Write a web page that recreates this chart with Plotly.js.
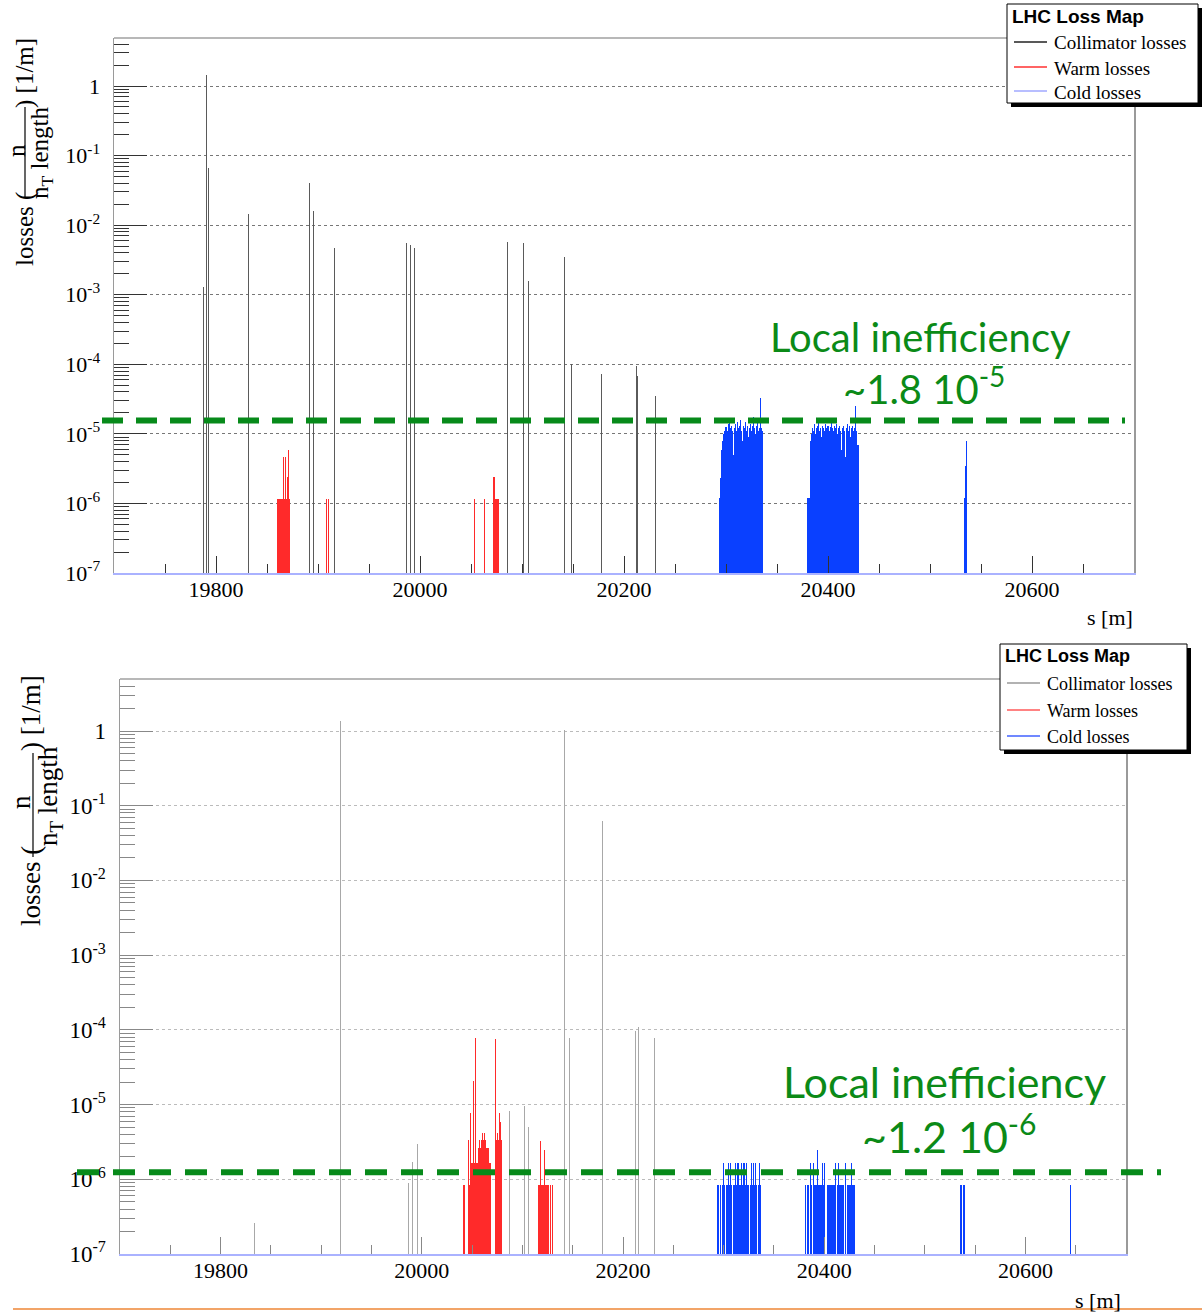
<!DOCTYPE html>
<html><head><meta charset="utf-8">
<script src="https://cdn.plot.ly/plotly-3.0.1.min.js"></script>
<style>html,body{margin:0;padding:0;background:#fff}</style>
</head><body><div id="chart" style="width:1202px;height:1315px"></div>
<script>
// ================= DATA =================
const xTickVals = [19800, 20000, 20200, 20400, 20600];
const xTickText = ['19800', '20000', '20200', '20400', '20600'];
const yTickVals = [1e-7, 1e-6, 1e-5, 1e-4, 1e-3, 1e-2, 1e-1, 1];
const yTickText = ['10<sup>-7</sup>', '10<sup>-6</sup>', '10<sup>-5</sup>', '10<sup>-4</sup>',
                   '10<sup>-3</sup>', '10<sup>-2</sup>', '10<sup>-1</sup>', '1'];
const legendNames = ['Collimator losses', 'Warm losses', 'Cold losses'];
const legendTitle = 'LHC Loss Map';

// ---- top panel ----
const ineffTop = 1.55e-5;
const ineffTopLabel = '~1.8 10<sup>-5</sup>';
const collTopS = [19788.2, 19790.9, 19792.2, 19832.0, 19891.8, 19895.8, 19916.3, 19987.0, 19990.5,
                  19994.4, 20085.6, 20101.7, 20106.6, 20141.2, 20148.7, 20178.4, 20212.4, 20213.4, 20231.0];
const collTopV = [1.3e-3, 1.44, 0.066, 0.0143, 0.041, 0.016, 4.7e-3, 5.6e-3, 5.1e-3,
                  4.7e-3, 5.8e-3, 5.6e-3, 1.6e-3, 3.5e-3, 1.0e-4, 7.2e-5, 9.5e-5, 6.8e-5, 3.5e-5];
const warmTopS = [19860, 19861, 19862, 19863, 19864, 19865, 19866, 19867, 19868, 19869, 19870, 19871, 19872,
                  19908, 19910, 20053, 20063, 20072, 20073, 20074, 20075, 20076, 20077];
const warmTopV = [1.14e-6, 1.14e-6, 1.14e-6, 1.14e-6, 1.14e-6, 1.14e-6, 4.6e-6, 1.14e-6, 4.6e-6, 1.14e-6, 2.4e-6, 5.9e-6, 1.14e-6,
                  1.14e-6, 1.14e-6, 1.14e-6, 1.14e-6, 2.4e-6, 2.4e-6, 1.14e-6, 1.14e-6, 1.14e-6, 1.14e-6];
// cold losses, 1 m bins: first bin position and bin contents
const coldTopA0 = 20294;
const coldTopA = [1.2e-6, 2.3e-6, 5.9e-6, 8.0e-6, 1.0e-5, 1.1e-5, 1.25e-5, 1.1e-5, 1.4e-5, 1.6e-5,
                  1.2e-5, 1.3e-5, 1.1e-5, 5.0e-6, 1.2e-5, 1.4e-5, 1.1e-5, 1.5e-5, 1.2e-5, 1.3e-5,
                  1.6e-5, 1.1e-5, 8.0e-6, 1.3e-5, 1.2e-5, 1.5e-5, 1.1e-5, 1.3e-5, 9.0e-6, 1.2e-5,
                  1.4e-5, 1.1e-5, 1.3e-5, 1.75e-5, 1.2e-5, 1.0e-5, 1.3e-5, 1.5e-5, 1.1e-5, 1.2e-5,
                  3.3e-5, 1.2e-5, 1.1e-5];
const coldTopB0 = 20380;
const coldTopB = [1.2e-6, 1.2e-6, 1.2e-6, 8.0e-6, 1.0e-5, 1.2e-5, 1.1e-5, 1.4e-5, 1.0e-5, 1.2e-5,
                  1.3e-5, 1.7e-5, 1.1e-5, 1.2e-5, 9.0e-6, 1.3e-5, 1.2e-5, 1.1e-5, 1.4e-5, 1.2e-5,
                  1.3e-5, 1.1e-5, 1.25e-5, 1.5e-5, 1.2e-5, 1.1e-5, 1.3e-5, 1.2e-5, 1.4e-5, 1.0e-5,
                  1.2e-5, 1.3e-5, 1.1e-5, 5.9e-6, 1.2e-5, 1.3e-5, 1.1e-5, 4.7e-6, 1.2e-5, 1.4e-5,
                  1.1e-5, 1.3e-5, 9.0e-6, 1.2e-5, 1.3e-5, 1.1e-5, 1.2e-5, 2.5e-5, 1.1e-5, 7.0e-6,
                  7.0e-6];
const coldTopC0 = 20534;
const coldTopC = [1.2e-6, 3.5e-6, 8.0e-6];

// ---- bottom panel ----
const ineffBot = 1.24e-6;
const ineffBotLabel = '~1.2 10<sup>-6</sup>';
const collBotS = [19833.3, 19919.3, 19986.9, 19991.0, 19995.3, 20086.8, 20102.4, 20106.4, 20141.4,
                  20147.2, 20179.7, 20212.4, 20215.2, 20231.2];
const collBotV = [2.6e-7, 1.36, 8.8e-7, 1.7e-6, 3.0e-6, 8.2e-6, 9.6e-6, 5.0e-6, 1.03,
                  7.8e-5, 0.063, 9.7e-5, 1.1e-4, 7.8e-5];
const warmBotA0 = 20041;
const warmBotA = [8.4e-7, 8.4e-7, null, null, null, 3.4e-6, 8.4e-7, 7.6e-6, 1.63e-6, 1.63e-6,
                  2.1e-5, 1.63e-6, 7.7e-5, 1.63e-6, 1.63e-6, 2.6e-6, 3.35e-6, 2.6e-6, 3.35e-6, 4.2e-6,
                  3.35e-6, 4.2e-6, 3.35e-6, 2.6e-6, 2.6e-6, 2.6e-6, 1.63e-6, 1.63e-6, null, null,
                  null, null, 7.5e-5, 3.35e-6, 4.2e-6, 3.35e-6, 7.6e-6, 5.9e-6, 3.35e-6];
const warmBotB0 = 20116;
const warmBotB = [8.4e-7, 8.4e-7, 3.3e-6, 8.4e-7, 8.4e-7, 8.4e-7, 2.5e-6, 8.4e-7, 8.4e-7, 8.4e-7,
                  8.4e-7, null, 8.4e-7, null, 8.4e-7];
const coldBotA0 = 20294;
const coldBotA = [8.4e-7, 8.4e-7, null, 8.4e-7, null, 8.4e-7, 1.63e-6, 8.4e-7, null, 8.4e-7,
                  8.4e-7, 1.63e-6, 8.4e-7, 1.63e-6, 8.4e-7, null, 8.4e-7, 8.4e-7, 1.63e-6, 8.4e-7,
                  1.63e-6, 1.63e-6, 8.4e-7, 8.4e-7, 1.63e-6, 8.4e-7, 1.63e-6, 1.63e-6, 8.4e-7, 1.63e-6,
                  8.4e-7, 8.4e-7, null, 8.4e-7, 1.63e-6, 8.4e-7, 1.63e-6, 8.4e-7, 1.63e-6, 8.4e-7,
                  null, 8.4e-7, 1.63e-6, 8.4e-7];
const coldBotB0 = 20381;
const coldBotB = [8.4e-7, null, 8.4e-7, 8.4e-7, null, 1.63e-6, 8.4e-7, null, 1.63e-6, 8.4e-7,
                  8.4e-7, 8.4e-7, 2.5e-6, 8.4e-7, 8.4e-7, 8.4e-7, 8.4e-7, 1.63e-6, 8.4e-7, 1.63e-6,
                  null, null, 8.4e-7, 8.4e-7, 8.4e-7, 8.4e-7, 8.4e-7, 8.4e-7, 8.4e-7, 8.4e-7,
                  1.63e-6, null, 8.4e-7, 1.63e-6, 8.4e-7, 8.4e-7, 8.4e-7, 8.4e-7, 8.4e-7, null,
                  1.63e-6, null, 8.4e-7, 8.4e-7, 8.4e-7, 8.4e-7, 1.63e-6, 8.4e-7, 8.4e-7, 8.4e-7];
const coldBotC0 = 20535;
const coldBotC = [8.4e-7, 8.4e-7, null, 8.4e-7, 8.4e-7];
const coldBotD0 = 20645;
const coldBotD = [8.4e-7];

// ================= HELPERS =================
function bins(start, vals) {          // histogram bins of 1 m
  const x = [], y = [];
  vals.forEach((v, i) => { if (v !== null) { x.push(start + i); y.push(v); } });
  return {x, y};
}
function concat(...parts) {
  return {x: [].concat(...parts.map(p => p.x)), y: [].concat(...parts.map(p => p.y))};
}
const W = 1202, H = 1315;
const px = v => v / W, py = v => 1 - v / H;
const SERIF = '"Liberation Serif", "DejaVu Serif", serif';
const SANS = '"Liberation Sans", Arial, sans-serif';
const GREEN = '#0b8a17';
const TEXTFONT = 'Lato, "Open Sans", sans-serif';

const warmTop = {x: warmTopS, y: warmTopV};
const coldTop = concat(bins(coldTopA0, coldTopA), bins(coldTopB0, coldTopB), bins(coldTopC0, coldTopC));
const warmBot = concat(bins(warmBotA0, warmBotA), bins(warmBotB0, warmBotB));
const coldBot = concat(bins(coldBotA0, coldBotA), bins(coldBotB0, coldBotB),
                       bins(coldBotC0, coldBotC), bins(coldBotD0, coldBotD));

function bar(d, color, name, xa, ya) {
  return {type: 'bar', x: d.x, y: d.y, width: 1, xaxis: xa, yaxis: ya, name: name,
          marker: {color: color, line: {width: 0}}, showlegend: false, hoverinfo: 'x+y'};
}

const traces = [
  bar({x: collTopS, y: collTopV}, '#5a5a5a', legendNames[0], 'x', 'y'),
  bar(warmTop, '#ff2a2a', legendNames[1], 'x', 'y'),
  bar(coldTop, '#0a40ff', legendNames[2], 'x', 'y'),
  bar({x: collBotS, y: collBotV}, '#a8a8a8', legendNames[0], 'x2', 'y2'),
  bar(warmBot, '#ff2a2a', legendNames[1], 'x2', 'y2'),
  bar(coldBot, '#0a40ff', legendNames[2], 'x2', 'y2')
];

// minor log ticks (2..9 per decade)
const minorY = [];
for (let d = -7; d <= 0; d++) for (let k = 2; k <= 9; k++) minorY.push(k * Math.pow(10, d));

function xAxis(dom, ya, tickColor) {
  return {domain: dom, anchor: ya, range: [19700, 20700], tickmode: 'array', tickvals: xTickVals,
          ticktext: xTickText,
          ticks: 'inside', ticklen: 17, tickwidth: 1, tickcolor: tickColor,
          minor: {tickmode: 'linear', tick0: 19700, dtick: 50, ticks: 'inside', ticklen: 9,
                  tickwidth: 1, tickcolor: tickColor, showgrid: false},
          showgrid: false, zeroline: false, showline: true, linecolor: '#aab2ff', linewidth: 2,
          tickfont: {family: SERIF, size: 22, color: '#000'}, ticklabelstandoff: -4, fixedrange: true};
}
function yAxis(dom, xa, top, size, gridColor, tickColor) {
  return {domain: dom, anchor: xa, type: 'log', range: [-7, top], tickmode: 'array',
          tickvals: yTickVals, ticktext: yTickText, ticks: 'inside', ticklen: 33, tickwidth: 1,
          tickcolor: tickColor,
          minor: {tickmode: 'array', tickvals: minorY, ticks: 'inside', ticklen: 15, tickwidth: 1,
                  tickcolor: tickColor, showgrid: false},
          showgrid: true, gridcolor: gridColor, griddash: 'dot', gridwidth: 1,
          zeroline: false, showline: true, linecolor: '#9a9a9a', linewidth: 1.5, mirror: true,
          tickfont: {family: SERIF, size: size, color: '#000'}, ticklabelstandoff: 8, fixedrange: true};
}

const topLog = 0.69, botLog = 0.696;
const fracTop = (Math.log10(ineffTop) + 7) / (topLog + 7);
const fracBot = (Math.log10(ineffBot) + 7) / (botLog + 7);

function ann(text, x, y, size, opts) {
  return Object.assign({text: text, xref: 'paper', yref: 'paper', x: px(x), y: py(y),
          xanchor: 'center', yanchor: 'middle', showarrow: false,
          font: {family: SERIF, size: size, color: '#000'}}, opts || {});
}
function rot(text, x, y, size) { return ann(text, x, y, size, {textangle: -90}); }

// ---- hand-drawn ROOT-style legends (box, shadow, samples, texts) ----
function rootLegend(box, titleSize, textSize, rows, colors) {
  const [l, t, r, b] = box;
  const shp = [
    {type: 'rect', xref: 'paper', yref: 'paper', x0: px(l + 4), x1: px(r + 4), y0: py(b + 4), y1: py(t + 4),
     fillcolor: '#000', line: {width: 0}},
    {type: 'rect', xref: 'paper', yref: 'paper', x0: px(l), x1: px(r), y0: py(b), y1: py(t),
     fillcolor: '#fff', line: {color: '#000', width: 1}}
  ];
  const anns = [ann('<b>' + legendTitle + '</b>', l + 3, rows[0], titleSize,
                    {xanchor: 'left', font: {family: SANS, size: titleSize, color: '#000'}})];
  legendNames.forEach((n, i) => {
    const y = rows[i + 1];
    shp.push({type: 'line', xref: 'paper', yref: 'paper', x0: px(l + 7), x1: px(l + 40),
              y0: py(y - 1), y1: py(y - 1), line: {color: colors[i], width: 1.5}});
    anns.push(ann(n, l + 45, y, textSize, {xanchor: 'left'}));
  });
  return {shp, anns};
}
const legTop = rootLegend([1007, 4, 1198, 103], 19, 19, [17, 43, 68, 92], ['#222222', '#ff3030', '#a0a8ff']);
const legBot = rootLegend([1000, 644, 1187, 750], 18, 18, [656, 684, 711, 737], ['#999999', '#ff5a5a', '#4060ff']);

const annotations = [
  // y titles (top)
  rot('losses (', 25, 229, 25),
  rot('n', 16, 151, 25),
  rot('n<sub>T</sub> length', 41, 153, 25),
  rot(') [1/m]', 25, 73, 25),
  // y titles (bottom)
  rot('losses (', 31, 886, 27),
  rot('n', 21, 802, 27),
  rot('n<sub>T</sub> length', 50, 796, 27),
  rot(') [1/m]', 31, 713, 27),
  // x titles
  ann('s [m]', 1110, 617, 22),
  ann('s [m]', 1098, 1300, 22),
  // inefficiency labels
  ann('Local inefficiency', 920, 337, 40, {font: {family: TEXTFONT, size: 40, color: GREEN}}),
  ann(ineffTopLabel, 924, 386, 40, {font: {family: TEXTFONT, size: 40, color: GREEN}}),
  ann('Local inefficiency', 944, 1081, 43, {font: {family: TEXTFONT, size: 43, color: GREEN}}),
  ann(ineffBotLabel, 949, 1133, 43, {font: {family: TEXTFONT, size: 43, color: GREEN}})
].concat(legTop.anns, legBot.anns);

const shapes = [
  // fraction bars
  {type: 'line', xref: 'paper', yref: 'paper', x0: px(25), x1: px(25), y0: py(107), y1: py(197),
   line: {color: '#000', width: 1.2}},
  {type: 'line', xref: 'paper', yref: 'paper', x0: px(33), x1: px(33), y0: py(753), y1: py(857),
   line: {color: '#000', width: 1.2}},
  // top frame borders
  {type: 'line', xref: 'x domain', yref: 'y domain', x0: 0, x1: 1, y0: 1, y1: 1,
   line: {color: '#a0a0a0', width: 1.5}},
  {type: 'line', xref: 'x2 domain', yref: 'y2 domain', x0: 0, x1: 1, y0: 1, y1: 1,
   line: {color: '#a0a0a0', width: 1.5}},
  // inefficiency dashed lines
  {type: 'line', xref: 'paper', yref: 'y domain', x0: px(102), x1: px(1125), y0: fracTop, y1: fracTop,
   line: {color: '#078a1a', width: 6, dash: '21px,13px'}},
  {type: 'line', xref: 'paper', yref: 'y2 domain', x0: px(77), x1: px(1161), y0: fracBot, y1: fracBot,
   line: {color: '#078a1a', width: 6, dash: '22px,14px'}},
  // bottom orange rule
  {type: 'line', xref: 'paper', yref: 'paper', x0: px(13), x1: 1, y0: py(1309), y1: py(1309),
   line: {color: '#f2a468', width: 2}}
].concat(legTop.shp, legBot.shp);

const layout = {
  width: W, height: H, margin: {l: 0, r: 0, t: 0, b: 0},
  paper_bgcolor: '#fff', plot_bgcolor: '#fff',
  barmode: 'overlay', bargap: 0, showlegend: false,
  xaxis: xAxis([px(114), px(1134)], 'y', '#333'),
  yaxis: yAxis([py(573), py(38)], 'x', topLog, 22, '#777', '#333'),
  xaxis2: xAxis([px(120), px(1126)], 'y2', '#888'),
  yaxis2: yAxis([py(1254), py(679)], 'x2', botLog, 23, '#bbb', '#888'),
  annotations: annotations,
  shapes: shapes
};

Plotly.newPlot('chart', traces, layout, {displayModeBar: false, staticPlot: true});
</script>
</body></html>
